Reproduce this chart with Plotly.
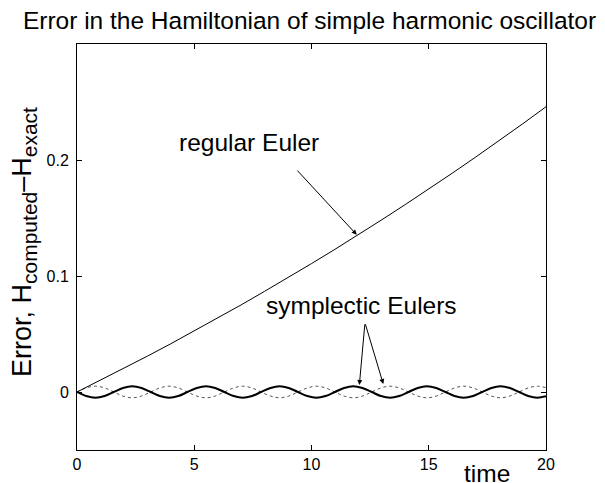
import plotly.graph_objects as go

# ---- data ----
t_regular = [0, 1, 2, 3, 4, 5, 6, 7, 8, 9, 10, 11, 12, 13, 14, 15, 16, 17, 18, 19, 20]
err_regular = [0.0, 0.0101, 0.0204, 0.0309, 0.0416, 0.0526, 0.0637, 0.0751, 0.0868,
               0.0986, 0.1107, 0.1230, 0.1356, 0.1485, 0.1616, 0.1749, 0.1886,
               0.2025, 0.2167, 0.2311, 0.2459]

t_symp = [0.00, 0.39, 0.79, 1.18, 1.57, 1.96, 2.36, 2.75, 3.14, 3.53, 3.93, 4.32,
          4.71, 5.11, 5.50, 5.89, 6.28, 6.68, 7.07, 7.46, 7.85, 8.25, 8.64, 9.03,
          9.42, 9.82, 10.21, 10.60, 11.00, 11.39, 11.78, 12.17, 12.57, 12.96, 13.35,
          13.74, 14.14, 14.53, 14.92, 15.32, 15.71, 16.10, 16.49, 16.89, 17.28, 17.67,
          18.06, 18.46, 18.85, 19.24, 19.63, 20.00]
err_symp_solid = [0, -0.0035, -0.005, -0.0035, 0, 0.0035, 0.005, 0.0035,
                  0, -0.0035, -0.005, -0.0035, 0, 0.0035, 0.005, 0.0035,
                  0, -0.0035, -0.005, -0.0035, 0, 0.0035, 0.005, 0.0035,
                  0, -0.0035, -0.005, -0.0035, 0, 0.0035, 0.005, 0.0035,
                  0, -0.0035, -0.005, -0.0035, 0, 0.0035, 0.005, 0.0035,
                  0, -0.0035, -0.005, -0.0035, 0, 0.0035, 0.005, 0.0035,
                  0, -0.0035, -0.005, -0.0037]
err_symp_dotted = [0, 0.0035, 0.005, 0.0035, 0, -0.0035, -0.005, -0.0035,
                   0, 0.0035, 0.005, 0.0035, 0, -0.0035, -0.005, -0.0035,
                   0, 0.0035, 0.005, 0.0035, 0, -0.0035, -0.005, -0.0035,
                   0, 0.0035, 0.005, 0.0035, 0, -0.0035, -0.005, -0.0035,
                   0, 0.0035, 0.005, 0.0035, 0, -0.0035, -0.005, -0.0035,
                   0, 0.0035, 0.005, 0.0035, 0, -0.0035, -0.005, -0.0035,
                   0, 0.0035, 0.005, 0.0037]

x_ticks = [0, 5, 10, 15, 20]
y_ticks = [0, 0.1, 0.2]
y_ticktext = ["0", "0.1", "0.2"]

FONT = "Liberation Sans, Arial, Helvetica, sans-serif"

# plot area in pixels (figure 605x483)
L, R, T, B = 77, 546, 44, 450
PW, PH = R - L, B - T


def px_to_paper_x(px):
    return (px - L) / PW


def px_to_paper_y(py):
    return (B - py) / PH


fig = go.Figure()
fig.add_trace(go.Scatter(x=t_symp, y=err_symp_dotted, mode="lines",
                         line=dict(color="#555555", width=1, dash="dot", shape="spline"),
                         showlegend=False, hoverinfo="skip"))
fig.add_trace(go.Scatter(x=t_symp, y=err_symp_solid, mode="lines",
                         line=dict(color="black", width=2, shape="spline"),
                         showlegend=False, hoverinfo="skip"))
fig.add_trace(go.Scatter(x=t_regular, y=err_regular, mode="lines",
                         line=dict(color="black", width=1),
                         showlegend=False, hoverinfo="skip"))

axis_common = dict(showgrid=False, zeroline=False, showline=True, linecolor="black",
                   linewidth=1, mirror="ticks", ticks="inside", ticklen=5,
                   tickcolor="black", automargin=False,
                   tickfont=dict(family=FONT, size=16, color="black"))

fig.update_xaxes(range=[0, 20], tickvals=x_ticks, ticklabelstandoff=0, **axis_common)
fig.update_yaxes(range=[-0.05, 0.3], tickvals=y_ticks, ticktext=y_ticktext,
                 ticklabelstandoff=4, **axis_common)

ylabel = ("Error, H<sub><span style=\"font-size:21px\">computed</span></sub>"
          "\u2013H<sub><span style=\"font-size:21px\">exact</span></sub>")

annotations = [
    # text labels
    dict(x=7.33, y=0.2147, xref="x", yref="y", text="regular Euler", showarrow=False,
         font=dict(family=FONT, size=24.5, color="black")),
    dict(x=12.15, y=0.075, xref="x", yref="y", text="symplectic Eulers", showarrow=False,
         font=dict(family=FONT, size=24.5, color="black")),
    # arrows
    dict(x=11.93, y=0.1355, ax=9.34, ay=0.1922, xref="x", yref="y", axref="x", ayref="y",
         text="", showarrow=True, arrowhead=2, arrowsize=1, arrowwidth=1, arrowcolor="black"),
    dict(x=12.04, y=0.0060, ax=12.28, ay=0.0597, xref="x", yref="y", axref="x", ayref="y",
         text="", showarrow=True, arrowhead=2, arrowsize=1, arrowwidth=1, arrowcolor="black"),
    dict(x=13.06, y=0.0069, ax=12.28, ay=0.0597, xref="x", yref="y", axref="x", ayref="y",
         text="", showarrow=True, arrowhead=2, arrowsize=1, arrowwidth=1, arrowcolor="black"),
    # axis labels
    dict(x=px_to_paper_x(486.5), y=px_to_paper_y(473), xref="paper", yref="paper",
         text="time", showarrow=False, xanchor="center", yanchor="middle",
         font=dict(family=FONT, size=24.5, color="black")),
    dict(x=px_to_paper_x(24), y=px_to_paper_y(242), xref="paper", yref="paper",
         text=ylabel, textangle=-90,
         showarrow=False, xanchor="center", yanchor="middle",
         font=dict(family=FONT, size=27, color="black")),
]

fig.update_layout(
    width=605, height=483,
    margin=dict(l=L, r=605 - R, t=T, b=483 - B, autoexpand=False),
    paper_bgcolor="white", plot_bgcolor="white",
    title=dict(text="Error in the Hamiltonian of simple harmonic oscillator",
               x=309.5 / 605, xanchor="center", xref="container",
               y=1 - 20 / 483, yanchor="middle", yref="container",
               font=dict(family=FONT, size=24.5, color="black")),
    annotations=annotations,
)

fig.write_html("out.html",
               config={"displayModeBar": False, "staticPlot": True},
               post_script="document.body.style.margin='0';document.body.style.overflow='hidden';")
